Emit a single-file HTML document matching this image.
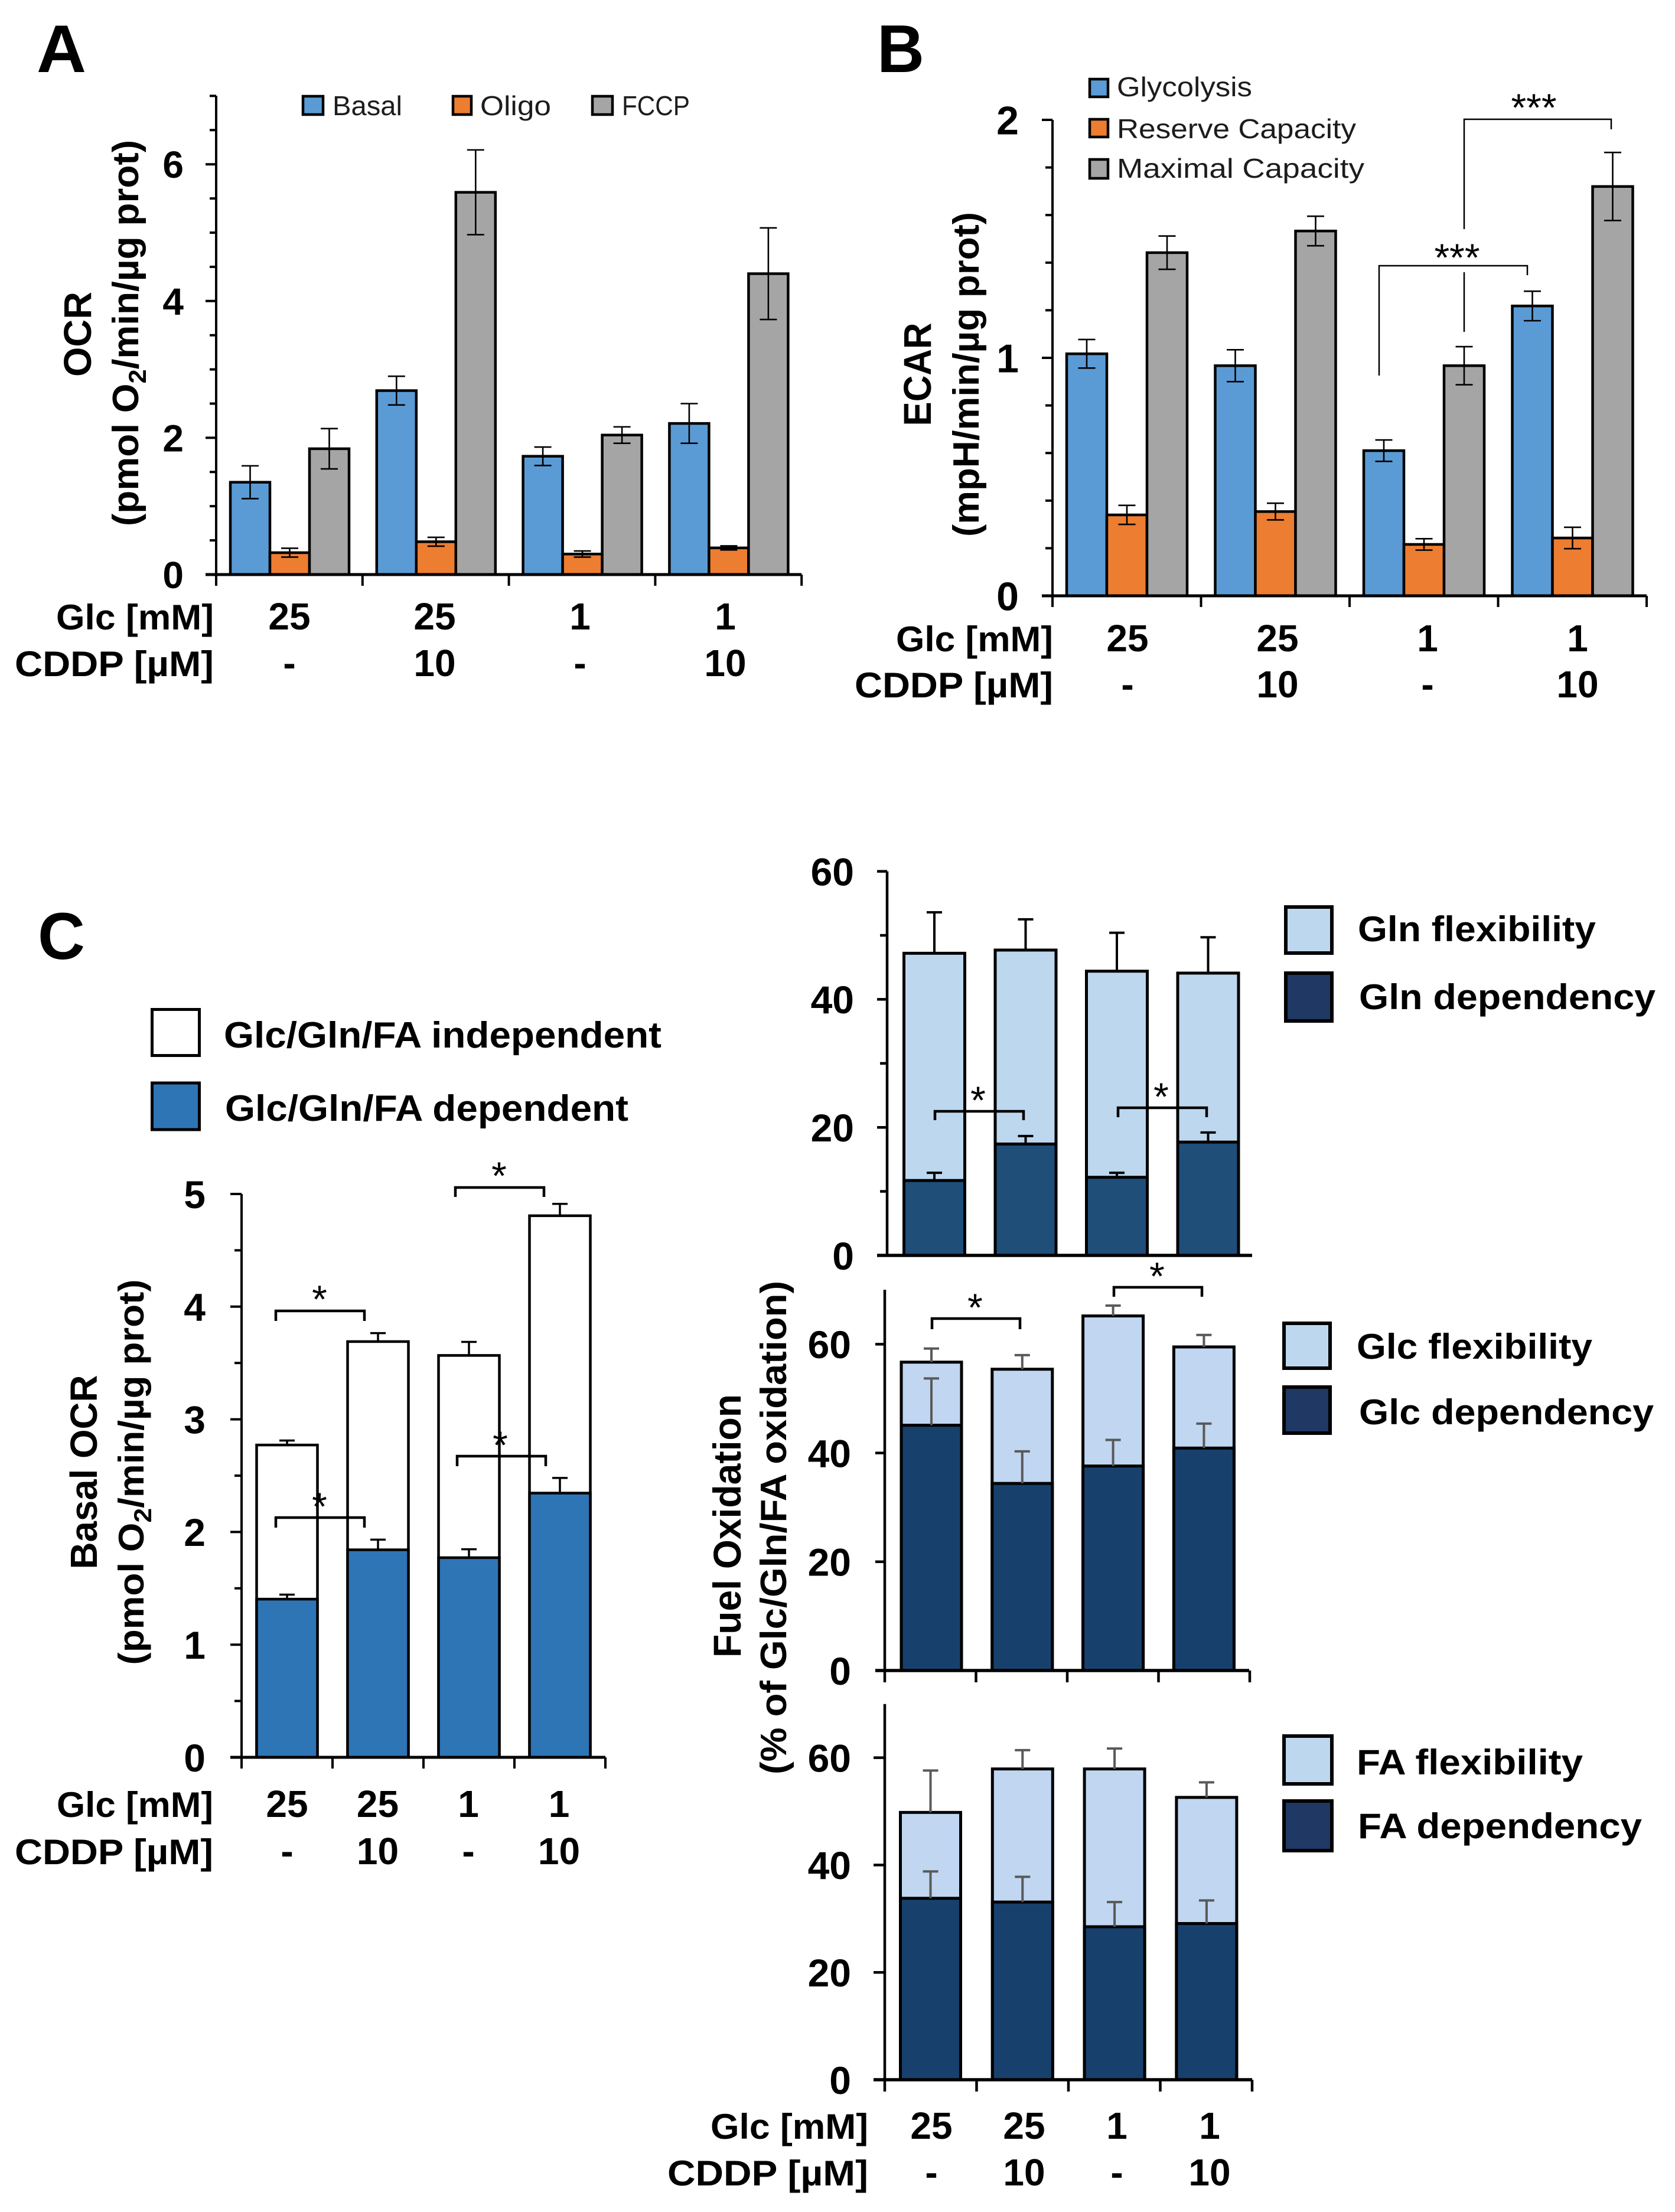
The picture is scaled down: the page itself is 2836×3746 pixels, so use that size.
<!DOCTYPE html>
<html lang="en">
<head>
<meta charset="utf-8">
<title>OCR, ECAR and fuel oxidation figure</title>
<style>
html,body{margin:0;padding:0;background:#fff}
svg{display:block}
text{font-family:"Liberation Sans",sans-serif;fill:#000}
.b{font-weight:bold}
.leg{fill:#1c1c1c}
</style>
</head>
<body>
<svg id="figure" xmlns="http://www.w3.org/2000/svg" width="2836" height="3746" viewBox="0 0 2836 3746">
<rect width="2836" height="3746" fill="#fff"/>

<!-- Panel letters -->
<text class="b" x="62" y="122" font-size="114" textLength="84" lengthAdjust="spacingAndGlyphs">A</text>
<text class="b" x="1485" y="122" font-size="114" textLength="80" lengthAdjust="spacingAndGlyphs">B</text>
<text class="b" x="64" y="1624" font-size="112" textLength="80" lengthAdjust="spacingAndGlyphs">C</text>

<g id="chart-a"></g>
<g id="chart-b"></g>
<g id="chart-c"></g>
<g id="chart-gln"></g>
<g id="chart-glc"></g>
<g id="chart-fa"></g>

<!-- Panel A static labels -->
<text class="b" transform="translate(154,566) rotate(-90)" text-anchor="middle" font-size="66" textLength="144" lengthAdjust="spacingAndGlyphs">OCR</text>
<text class="b" transform="translate(234,564) rotate(-90)" text-anchor="middle" font-size="62" textLength="654" lengthAdjust="spacingAndGlyphs">(pmol O<tspan dy="13" font-size="42">2</tspan><tspan dy="-13">/min/µg prot)</tspan></text>
<g>
  <rect x="513" y="163" width="34" height="31" fill="#5B9BD5" stroke="#000" stroke-width="4.5"/>
  <text class="leg" x="563" y="195" font-size="46" textLength="118" lengthAdjust="spacingAndGlyphs">Basal</text>
  <rect x="767" y="163" width="31" height="31" fill="#ED7D31" stroke="#000" stroke-width="4.5"/>
  <text class="leg" x="813" y="195" font-size="46" textLength="120" lengthAdjust="spacingAndGlyphs">Oligo</text>
  <rect x="1003" y="163" width="34" height="31" fill="#A5A5A5" stroke="#000" stroke-width="4.5"/>
  <text class="leg" x="1053" y="195" font-size="46" textLength="115" lengthAdjust="spacingAndGlyphs">FCCP</text>
</g>
<text class="b" x="95" y="1066" font-size="60" textLength="267" lengthAdjust="spacingAndGlyphs">Glc [mM]</text>
<text class="b" x="25" y="1145" font-size="60" textLength="337" lengthAdjust="spacingAndGlyphs">CDDP [µM]</text>

<!-- Panel B static labels -->
<text class="b" transform="translate(1576,634) rotate(-90)" text-anchor="middle" font-size="66" textLength="175" lengthAdjust="spacingAndGlyphs">ECAR</text>
<text class="b" transform="translate(1657,634) rotate(-90)" text-anchor="middle" font-size="62" textLength="550" lengthAdjust="spacingAndGlyphs">(mpH/min/µg prot)</text>
<g>
  <rect x="1845" y="134" width="31" height="30" fill="#5B9BD5" stroke="#000" stroke-width="4.5"/>
  <text class="leg" x="1891" y="163" font-size="46" textLength="229" lengthAdjust="spacingAndGlyphs">Glycolysis</text>
  <rect x="1845" y="202" width="31" height="30" fill="#ED7D31" stroke="#000" stroke-width="4.5"/>
  <text class="leg" x="1891" y="234" font-size="46" textLength="405" lengthAdjust="spacingAndGlyphs">Reserve Capacity</text>
  <rect x="1845" y="270" width="31" height="32" fill="#A5A5A5" stroke="#000" stroke-width="4.5"/>
  <text class="leg" x="1891" y="301" font-size="46" textLength="419" lengthAdjust="spacingAndGlyphs">Maximal Capacity</text>
</g>
<g fill="none" stroke="#000" stroke-width="2.5">
  <path d="M2479 388V202H2728V219"/>
  <path d="M2335 636V450H2586V466"/>
  <path d="M2479 461V562"/>
</g>
<text x="2597" y="205" font-size="66" text-anchor="middle">***</text>
<text x="2467" y="459" font-size="66" text-anchor="middle">***</text>
<text class="b" x="1517" y="1103" font-size="60" textLength="266" lengthAdjust="spacingAndGlyphs">Glc [mM]</text>
<text class="b" x="1447" y="1181" font-size="60" textLength="336" lengthAdjust="spacingAndGlyphs">CDDP [µM]</text>

<!-- Panel C static labels -->
<text class="b" transform="translate(164,2493) rotate(-90)" text-anchor="middle" font-size="64" textLength="329" lengthAdjust="spacingAndGlyphs">Basal OCR</text>
<text class="b" transform="translate(243,2493) rotate(-90)" text-anchor="middle" font-size="60" textLength="653" lengthAdjust="spacingAndGlyphs">(pmol O<tspan dy="13" font-size="42">2</tspan><tspan dy="-13">/min/µg prot)</tspan></text>
<g>
  <rect x="257.500" y="1709.500" width="80" height="78" fill="#fff" stroke="#000" stroke-width="5"/>
  <text class="b" x="379" y="1774" font-size="62" textLength="741" lengthAdjust="spacingAndGlyphs">Glc/Gln/FA independent</text>
  <rect x="257.500" y="1834" width="80" height="79" fill="#2E75B6" stroke="#000" stroke-width="5"/>
  <text class="b" x="381" y="1898" font-size="62" textLength="683" lengthAdjust="spacingAndGlyphs">Glc/Gln/FA dependent</text>
</g>
<g fill="none" stroke="#000" stroke-width="4.5">
  <path d="M467 2237V2220H617V2237"/>
  <path d="M467 2587V2570H617V2587"/>
  <path d="M771 2027V2011H921V2027"/>
  <path d="M774 2483V2466H924V2483"/>
</g>
<text x="541" y="2223" font-size="66" text-anchor="middle">*</text>
<text x="541" y="2574" font-size="66" text-anchor="middle">*</text>
<text x="845" y="2014" font-size="66" text-anchor="middle">*</text>
<text x="847" y="2470" font-size="66" text-anchor="middle">*</text>
<text class="b" x="96" y="3077" font-size="60" textLength="265" lengthAdjust="spacingAndGlyphs">Glc [mM]</text>
<text class="b" x="25" y="3157" font-size="60" textLength="336" lengthAdjust="spacingAndGlyphs">CDDP [µM]</text>

<!-- Fuel oxidation static labels -->
<text class="b" transform="translate(1254,2584) rotate(-90)" text-anchor="middle" font-size="66" textLength="446" lengthAdjust="spacingAndGlyphs">Fuel Oxidation</text>
<text class="b" transform="translate(1331,2587) rotate(-90)" text-anchor="middle" font-size="62" textLength="836" lengthAdjust="spacingAndGlyphs">(% of Glc/Gln/FA oxidation)</text>

<g>
  <rect x="2177" y="1536" width="78" height="78" fill="#BDD7EE" stroke="#000" stroke-width="6"/>
  <text class="b" x="2299" y="1594" font-size="60" textLength="403" lengthAdjust="spacingAndGlyphs">Gln flexibility</text>
  <rect x="2177" y="1648" width="78" height="81" fill="#1F3864" stroke="#000" stroke-width="6"/>
  <text class="b" x="2301" y="1709" font-size="60" textLength="502" lengthAdjust="spacingAndGlyphs">Gln dependency</text>
</g>
<g fill="none" stroke="#000" stroke-width="4.5">
  <path d="M1583 1897V1882H1733V1897"/>
  <path d="M1893 1892V1876H2043V1892"/>
</g>
<text x="1656" y="1886" font-size="66" text-anchor="middle">*</text>
<text x="1966" y="1880" font-size="66" text-anchor="middle">*</text>

<g>
  <rect x="2174" y="2241" width="78" height="76" fill="#BDD7EE" stroke="#000" stroke-width="6"/>
  <text class="b" x="2297" y="2301" font-size="60" textLength="399" lengthAdjust="spacingAndGlyphs">Glc flexibility</text>
  <rect x="2174" y="2349" width="78" height="78" fill="#1F3864" stroke="#000" stroke-width="6"/>
  <text class="b" x="2301" y="2412" font-size="60" textLength="499" lengthAdjust="spacingAndGlyphs">Glc dependency</text>
</g>
<g fill="none" stroke="#000" stroke-width="4.5">
  <path d="M1578 2251V2233H1727V2251"/>
  <path d="M1886 2196V2180H2035V2196"/>
</g>
<text x="1651" y="2237" font-size="66" text-anchor="middle">*</text>
<text x="1959" y="2184" font-size="66" text-anchor="middle">*</text>

<g>
  <rect x="2174" y="2940" width="81" height="81" fill="#BDD7EE" stroke="#000" stroke-width="6"/>
  <text class="b" x="2297" y="3005" font-size="60" textLength="383" lengthAdjust="spacingAndGlyphs">FA flexibility</text>
  <rect x="2174" y="3050" width="81" height="84" fill="#1F3864" stroke="#000" stroke-width="6"/>
  <text class="b" x="2299" y="3113" font-size="60" textLength="481" lengthAdjust="spacingAndGlyphs">FA dependency</text>
</g>
<text class="b" x="1203" y="3622" font-size="60" textLength="267" lengthAdjust="spacingAndGlyphs">Glc [mM]</text>
<text class="b" x="1130" y="3701" font-size="60" textLength="340" lengthAdjust="spacingAndGlyphs">CDDP [µM]</text>
</svg>

<script>
// ---- shared categories ----
const glcLabels = ['25', '25', '1', '1'];
const cddpLabels = ['-', '10', '-', '10'];

// ---- Panel A: OCR ----
const ocrTickLabels = [0, 2, 4, 6];
const ocrBasal = [1.35, 2.69, 1.73, 2.21];
const ocrBasalErr = [0.24, 0.21, 0.135, 0.29];
const ocrOligo = [0.32, 0.48, 0.30, 0.39];
const ocrOligoErr = [0.065, 0.065, 0.045, 0.03];
const ocrFccp = [1.84, 5.59, 2.04, 4.40];
const ocrFccpErr = [0.295, 0.62, 0.12, 0.67];

// ---- Panel B: ECAR ----
const ecarTickLabels = [0, 1, 2];
const ecarGlycolysis = [1.017, 0.967, 0.61, 1.218];
const ecarGlycolysisErr = [0.06, 0.067, 0.045, 0.062];
const ecarReserve = [0.34, 0.354, 0.216, 0.243];
const ecarReserveErr = [0.04, 0.035, 0.024, 0.045];
const ecarMaximal = [1.442, 1.533, 0.967, 1.72];
const ecarMaximalErr = [0.07, 0.062, 0.08, 0.143];

// ---- Panel C: basal OCR (stack totals) ----
const basalTickLabels = [0, 1, 2, 3, 4, 5];
const basalDependent = [1.404, 1.842, 1.772, 2.345];
const basalDependentErr = [0.04, 0.09, 0.075, 0.135];
const basalTotal = [2.772, 3.69, 3.567, 4.807];
const basalTotalErr = [0.04, 0.075, 0.12, 0.105];

// ---- Gln ----
const glnTickLabels = [0, 20, 40, 60];
const glnDependency = [11.7, 17.4, 12.2, 17.7];
const glnDependencyErr = [1.2, 1.25, 0.7, 1.5];
const glnTotal = [47.2, 47.7, 44.4, 44.1];
const glnTotalErr = [6.4, 4.8, 6.0, 5.6];

// ---- Glc ----
const glcTickLabels = [0, 20, 40, 60];
const glcDependency = [45.1, 34.4, 37.6, 40.9];
const glcDependencyErr = [8.6, 5.9, 4.8, 4.5];
const glcTotal = [56.7, 55.4, 65.2, 59.5];
const glcTotalErr = [2.5, 2.6, 1.9, 2.2];

// ---- FA ----
const faTickLabels = [0, 20, 40, 60];
const faDependency = [33.8, 33.1, 28.5, 29.1];
const faDependencyErr = [5.0, 4.7, 4.6, 4.3];
const faTotal = [49.8, 57.9, 57.9, 52.6];
const faTotalErr = [7.8, 3.5, 3.8, 2.8];

const NS = 'http://www.w3.org/2000/svg';

function make(parent, tag, attrs) {
  const el = document.createElementNS(NS, tag);
  for (const k in attrs) el.setAttribute(k, attrs[k]);
  parent.appendChild(el);
  return el;
}

function drawAxes(g, key, a, ticks, step) {
  const y = v => a.base - v * a.unit;
  for (let v = 0; v <= a.max + 1e-9; v += step) {
    const major = ticks.some(t => Math.abs(t - v) < 1e-9);
    const tick = make(g, 'line', {x1: a.left - (major ? a.tickLen : a.minorLen), x2: a.left, y1: y(v), y2: y(v), stroke: '#000', 'stroke-width': a.sw});
    
    
  }
  ticks.forEach(t => {
    const lab = make(g, 'text', {x: a.labelRight, y: y(t) + a.labelSize * 0.36, 'text-anchor': 'end', 'font-size': a.labelSize, 'font-weight': 'bold'});
    lab.textContent = t;
    
    
  });
  if (a.catStep) {
    for (let i = 0; i <= 4; i++) {
      const cx = a.left + a.catStep * i;
      const ct = make(g, 'line', {x1: cx, x2: cx, y1: a.base, y2: a.base + a.catTick, stroke: '#000', 'stroke-width': a.sw});
      
      
    }
  }
}

function drawAxisLines(g, key, a) {
  const yAxis = make(g, 'line', {x1: a.left, x2: a.left, y1: a.base - a.max * a.unit, y2: a.base, stroke: '#000', 'stroke-width': a.sw});
  
  
  const xAxis = make(g, 'line', {x1: a.left - a.tickLen, x2: a.right, y1: a.base, y2: a.base, stroke: '#000', 'stroke-width': a.sw + 1});
  
  
}

function drawCategories(g, key, a) {
  if (!a.labelStep) return;
  glcLabels.forEach((t, i) => {
    const lab = make(g, 'text', {x: a.labelFirst + a.labelStep * i, y: a.glcY, 'text-anchor': 'middle', 'font-size': a.catSize, 'font-weight': 'bold'});
    lab.textContent = t;
    
    
  });
  cddpLabels.forEach((t, i) => {
    const lab = make(g, 'text', {x: a.labelFirst + a.labelStep * i, y: a.cddpY, 'text-anchor': 'middle', 'font-size': a.catSize, 'font-weight': 'bold'});
    lab.textContent = t;
    
    
  });
}

function drawErr(g, key, cx, v, e, y, a, both) {
  const line = make(g, 'path', {
    d: 'M' + cx + ' ' + (both ? y(v - e) : y(v)) + 'V' + y(v + e) +
       'M' + (cx - a.cap / 2) + ' ' + y(v + e) + 'H' + (cx + a.cap / 2) +
       (both ? 'M' + (cx - a.cap / 2) + ' ' + y(v - e) + 'H' + (cx + a.cap / 2) : ''),
    fill: 'none', stroke: a.errColor, 'stroke-width': a.errWidth
  });
  
  
}

function drawGrouped(id, key, a, ticks, step, series) {
  const g = document.getElementById(id);
  const y = v => a.base - v * a.unit;
  const bandX = (i, j) => a.left + a.catStep * i + a.pad + a.barW * j;
  series.forEach((s, j) => {
    s.values.forEach((v, i) => {
      const bar = make(g, 'rect', {x: bandX(i, j), y: y(v), width: a.barW, height: a.base - y(v), fill: s.color, stroke: '#000', 'stroke-width': a.barStroke});
      
      
    });
  });
  series.forEach((s, j) => {
    s.values.forEach((v, i) => drawErr(g, key + '-' + s.name, bandX(i, j) + a.barW / 2, v, s.errs[i], y, a, true));
  });
  drawAxes(g, key, a, ticks, step);
  drawAxisLines(g, key, a);
  drawCategories(g, key, a);
}

function drawStacked(id, key, a, ticks, step, s) {
  const g = document.getElementById(id);
  const y = v => a.base - v * a.unit;
  const cx = i => a.barFirst + a.barStep * i;
  s.total.forEach((v, i) => {
    const bar = make(g, 'rect', {x: cx(i) - a.barW / 2, y: y(v), width: a.barW, height: a.base - y(v), fill: a.topColor, stroke: '#000', 'stroke-width': a.barStroke});
    
    
  });
  s.dep.forEach((v, i) => {
    const bar = make(g, 'rect', {x: cx(i) - a.barW / 2, y: y(v), width: a.barW, height: a.base - y(v), fill: a.depColor, stroke: '#000', 'stroke-width': a.barStroke});
    
    
  });
  s.total.forEach((v, i) => drawErr(g, key + '-top', cx(i), v, s.totalErr[i], y, a, false));
  s.dep.forEach((v, i) => drawErr(g, key + '-dependent', cx(i), v, s.depErr[i], y, a, false));
  drawAxes(g, key, a, ticks, step);
  drawAxisLines(g, key, a);
  drawCategories(g, key, a);
}

drawGrouped('chart-a', 'ocr', {
  left: 366, right: 1357, base: 973, unit: 115.8, max: 7, sw: 4, tickLen: 18, minorLen: 11,
  catStep: 247.8, catTick: 19, pad: 24, barW: 67, barStroke: 4.5, cap: 29, errColor: '#000', errWidth: 2.6,
  labelRight: 311, labelSize: 64, labelFirst: 490, labelStep: 246, glcY: 1066, cddpY: 1145, catSize: 64
}, ocrTickLabels, 0.5, [
  {name: 'basal', color: '#5B9BD5', values: ocrBasal, errs: ocrBasalErr},
  {name: 'oligo', color: '#ED7D31', values: ocrOligo, errs: ocrOligoErr},
  {name: 'fccp', color: '#A5A5A5', values: ocrFccp, errs: ocrFccpErr}
]);

drawGrouped('chart-b', 'ecar', {
  left: 1782, right: 2788, base: 1009, unit: 403, max: 2, sw: 4, tickLen: 18, minorLen: 12,
  catStep: 251.5, catTick: 19, pad: 24, barW: 68, barStroke: 4.5, cap: 29, errColor: '#000', errWidth: 2.6,
  labelRight: 1725, labelSize: 68, labelFirst: 1909, labelStep: 254, glcY: 1103, cddpY: 1181, catSize: 64
}, ecarTickLabels, 0.2, [
  {name: 'glycolysis', color: '#5B9BD5', values: ecarGlycolysis, errs: ecarGlycolysisErr},
  {name: 'reserve', color: '#ED7D31', values: ecarReserve, errs: ecarReserveErr},
  {name: 'maximal', color: '#A5A5A5', values: ecarMaximal, errs: ecarMaximalErr}
]);

drawStacked('chart-c', 'basal', {
  left: 409, right: 1025, base: 2976, unit: 190.8, max: 5, sw: 4, tickLen: 19, minorLen: 12,
  catStep: 154, catTick: 19, barFirst: 486, barStep: 154, barW: 103, barStroke: 4.5, cap: 26, errColor: '#000', errWidth: 3.5,
  topColor: '#fff', depColor: '#2E75B6',
  labelRight: 348, labelSize: 66, labelFirst: 486, labelStep: 153.5, glcY: 3077, cddpY: 3157, catSize: 64
}, basalTickLabels, 0.5, {dep: basalDependent, depErr: basalDependentErr, total: basalTotal, totalErr: basalTotalErr});

drawStacked('chart-gln', 'gln', {
  left: 1502, right: 2120, base: 2126, unit: 10.84, max: 60, sw: 4.5, tickLen: 17, minorLen: 12,
  catStep: 0, barFirst: 1582, barStep: 154.5, barW: 103, barStroke: 5, cap: 26, errColor: '#000', errWidth: 4,
  topColor: '#BDD7EE', depColor: '#1F4E79',
  labelRight: 1446, labelSize: 66
}, glnTickLabels, 10, {dep: glnDependency, depErr: glnDependencyErr, total: glnTotal, totalErr: glnTotalErr});

drawStacked('chart-glc', 'glc', {
  left: 1498, right: 2115, base: 2829, unit: 9.21, max: 70, sw: 4.5, tickLen: 16, minorLen: 16,
  catStep: 154.5, catTick: 20, barFirst: 1577, barStep: 153.8, barW: 102, barStroke: 5, cap: 26, errColor: '#595959', errWidth: 4,
  topColor: '#C0D6F1', depColor: '#17406D',
  labelRight: 1441, labelSize: 66
}, glcTickLabels, 20, {dep: glcDependency, depErr: glcDependencyErr, total: glcTotal, totalErr: glcTotalErr});

drawStacked('chart-fa', 'fa', {
  left: 1498, right: 2120, base: 3522, unit: 9.09, max: 70, sw: 4.5, tickLen: 19, minorLen: 19,
  catStep: 155.5, catTick: 20, barFirst: 1575.5, barStep: 155.8, barW: 102, barStroke: 5, cap: 26, errColor: '#595959', errWidth: 4,
  topColor: '#C0D6F1', depColor: '#17406D',
  labelRight: 1441, labelSize: 66, labelFirst: 1577, labelStep: 157, glcY: 3622, cddpY: 3701, catSize: 64
}, faTickLabels, 20, {dep: faDependency, depErr: faDependencyErr, total: faTotal, totalErr: faTotalErr});
</script>
</body>
</html>
